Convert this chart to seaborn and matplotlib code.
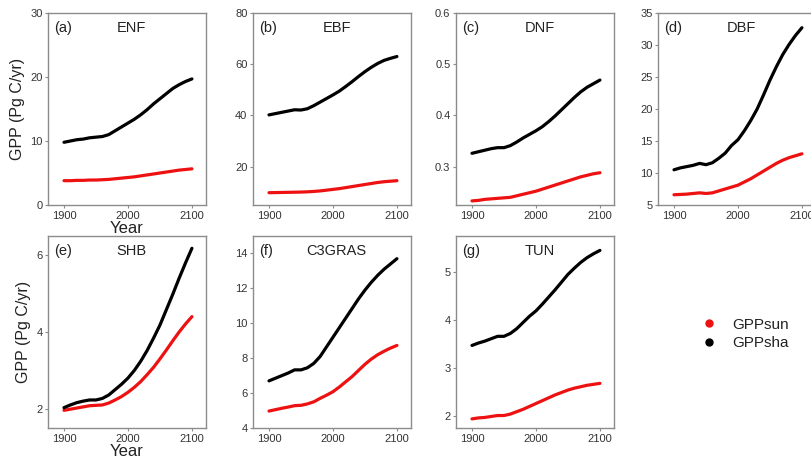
import matplotlib
matplotlib.use("Agg")
import matplotlib.pyplot as plt
import pandas as pd
import seaborn as sns
from matplotlib.lines import Line2D

# Simulated global GPP of sunlit and shaded leaves by plant functional type
years = list(range(1900, 2101, 10))
pft_names = ["ENF", "EBF", "DNF", "DBF", "SHB", "C3GRAS", "TUN"]
panel_tags = ["(a)", "(b)", "(c)", "(d)", "(e)", "(f)", "(g)"]

enf_sun = [3.8, 3.8, 3.85, 3.85, 3.9, 3.9, 3.95, 4.0, 4.1, 4.2, 4.3, 4.4, 4.55, 4.7, 4.85, 5.0, 5.15, 5.3, 5.45, 5.55, 5.65]
enf_sha = [9.8, 10.0, 10.2, 10.3, 10.5, 10.6, 10.7, 11.0, 11.6, 12.2, 12.8, 13.4, 14.1, 14.9, 15.8, 16.6, 17.4, 18.2, 18.8, 19.3, 19.7]

ebf_sun = [9.8, 9.85, 9.9, 9.95, 10.0, 10.05, 10.15, 10.3, 10.5, 10.8, 11.1, 11.4, 11.8, 12.2, 12.6, 13.0, 13.4, 13.8, 14.1, 14.3, 14.5]
ebf_sha = [40.2, 40.7, 41.2, 41.7, 42.2, 42.1, 42.6, 43.8, 45.2, 46.6, 48.0, 49.5, 51.3, 53.2, 55.2, 57.1, 58.8, 60.3, 61.5, 62.3, 63.0]

dnf_sun = [0.233, 0.234, 0.236, 0.237, 0.238, 0.239, 0.240, 0.243, 0.246, 0.249, 0.252, 0.256, 0.260, 0.264, 0.268, 0.272, 0.276, 0.280, 0.283, 0.286, 0.288]
dnf_sha = [0.326, 0.329, 0.332, 0.335, 0.337, 0.337, 0.341, 0.348, 0.356, 0.363, 0.370, 0.378, 0.388, 0.399, 0.411, 0.423, 0.435, 0.446, 0.455, 0.462, 0.469]

dbf_sun = [6.6, 6.65, 6.7, 6.8, 6.9, 6.8, 6.9, 7.2, 7.5, 7.8, 8.1, 8.6, 9.1, 9.7, 10.3, 10.9, 11.5, 12.0, 12.4, 12.7, 13.0]
dbf_sha = [10.5, 10.8, 11.0, 11.2, 11.5, 11.3, 11.6, 12.3, 13.1, 14.3, 15.2, 16.6, 18.2, 20.0, 22.2, 24.5, 26.6, 28.5, 30.1, 31.5, 32.7]

shb_sun = [1.96, 1.99, 2.02, 2.05, 2.08, 2.09, 2.10, 2.15, 2.23, 2.32, 2.43, 2.56, 2.71, 2.89, 3.08, 3.30, 3.53, 3.77, 4.00, 4.21, 4.40]
shb_sha = [2.03, 2.10, 2.16, 2.20, 2.23, 2.23, 2.27, 2.36, 2.50, 2.64, 2.80, 3.00, 3.24, 3.52, 3.84, 4.18, 4.58, 4.98, 5.40, 5.80, 6.18]

c3gras_sun = [4.97, 5.05, 5.13, 5.20, 5.28, 5.30, 5.38, 5.50, 5.70, 5.88, 6.08, 6.35, 6.65, 6.95, 7.30, 7.65, 7.95, 8.20, 8.40, 8.58, 8.73]
c3gras_sha = [6.70, 6.85, 7.00, 7.15, 7.33, 7.33, 7.45, 7.70, 8.10, 8.65, 9.20, 9.75, 10.30, 10.85, 11.40, 11.90, 12.35, 12.75, 13.10, 13.40, 13.70]

tun_sun = [1.94, 1.96, 1.97, 1.99, 2.01, 2.01, 2.04, 2.09, 2.14, 2.20, 2.26, 2.32, 2.38, 2.44, 2.49, 2.54, 2.58, 2.61, 2.64, 2.66, 2.68]
tun_sha = [3.47, 3.52, 3.56, 3.61, 3.66, 3.66, 3.72, 3.82, 3.95, 4.08, 4.19, 4.33, 4.48, 4.63, 4.79, 4.95, 5.08, 5.20, 5.30, 5.38, 5.45]

sun_series = [enf_sun, ebf_sun, dnf_sun, dbf_sun, shb_sun, c3gras_sun, tun_sun]
sha_series = [enf_sha, ebf_sha, dnf_sha, dbf_sha, shb_sha, c3gras_sha, tun_sha]

y_limits = [(0, 30), (5, 80), (0.225, 0.6), (5, 35), (1.5, 6.5), (4, 15), (1.75, 5.75)]
y_ticks = [[0, 10, 20, 30], [20, 40, 60, 80], [0.3, 0.4, 0.5, 0.6],
           [5, 10, 15, 20, 25, 30, 35], [2, 4, 6], [4, 6, 8, 10, 12, 14], [2, 3, 4, 5]]
x_ticks = [1900, 2000, 2100]

rows = []
for name, sun, sha in zip(pft_names, sun_series, sha_series):
    for yr, v in zip(years, sun):
        rows.append({"PFT": name, "Year": yr, "series": "GPPsun", "GPP": v})
    for yr, v in zip(years, sha):
        rows.append({"PFT": name, "Year": yr, "series": "GPPsha", "GPP": v})
df = pd.DataFrame(rows)

palette = {"GPPsun": "#ee1111", "GPPsha": "#000000"}

sns.set_theme(style="white")
plt.rcParams["font.family"] = ["Liberation Sans", "DejaVu Sans"]

W, H = 812, 466
fig = plt.figure(figsize=(W / 100, H / 100), dpi=100)

col_left = [48, 253, 456, 658]
row_top = [13, 236]
ax_w, ax_h = 158, 192

spine_col = "#8c8c8c"
for i, name in enumerate(pft_names):
    r, c = divmod(i, 4)
    left = col_left[c] / W
    bottom = (H - row_top[r] - ax_h) / H
    ax = fig.add_axes([left, bottom, ax_w / W, ax_h / H])
    sub = df[df["PFT"] == name]
    sns.lineplot(data=sub, x="Year", y="GPP", hue="series", palette=palette,
                 hue_order=["GPPsun", "GPPsha"], legend=False, ax=ax, lw=2.3)
    ax.set_xlim(1875, 2122)
    ax.set_ylim(*y_limits[i])
    ax.set_xticks(x_ticks)
    ax.set_yticks(y_ticks[i])
    ax.tick_params(axis="both", which="major", direction="out", length=2.5, width=0.8,
                   color=spine_col, labelsize=8, labelcolor="#333333", pad=1.5,
                   bottom=True, left=True)
    for sp in ax.spines.values():
        sp.set_color(spine_col)
        sp.set_linewidth(1.0)
    ax.text(0.04, 0.92, panel_tags[i], transform=ax.transAxes, fontsize=10.5,
            ha="left", va="center", color="#222222")
    ax.text(0.53, 0.92, name, transform=ax.transAxes, fontsize=10.5,
            ha="center", va="center", color="#222222")
    if c == 0:
        ax.set_ylabel("GPP (Pg C/yr)", fontsize=11.5, color="#222222", labelpad=4)
        ax.set_xlabel("Year", fontsize=12, color="#222222", labelpad=0)
    else:
        ax.set_ylabel("")
        ax.set_xlabel("")

handles = [Line2D([], [], ls="", marker="o", ms=5, color=palette["GPPsun"]),
           Line2D([], [], ls="", marker="o", ms=5, color=palette["GPPsha"])]
fig.legend(handles, ["GPPsun", "GPPsha"], loc="center left",
           bbox_to_anchor=(686 / W, (H - 334) / H), frameon=False, fontsize=11,
           handletextpad=0.9, labelspacing=0.3, handlelength=1.2, labelcolor="#222222")

fig.savefig("out.png", dpi=100, facecolor="white")
